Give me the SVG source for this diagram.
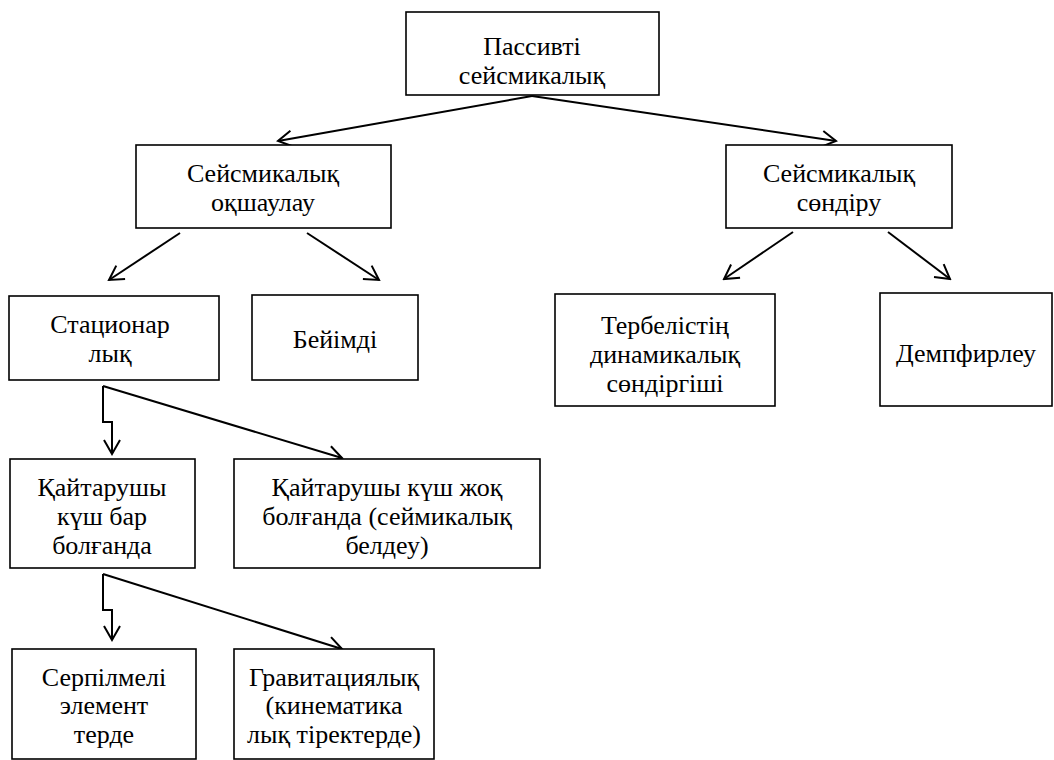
<svg xmlns="http://www.w3.org/2000/svg" width="1054" height="760" viewBox="0 0 1054 760">
<style>
.box{fill:#fff;stroke:#000;stroke-width:1.6}
text{font-family:'Liberation Serif','Times New Roman',serif;font-size:26px;fill:#000;text-anchor:middle}
.c{fill:none;stroke:#000;stroke-width:2;marker-end:url(#arr)}
</style>
<defs>
<marker id="arr" viewBox="-16 -10 18 20" refX="0" refY="0" markerWidth="18" markerHeight="20" markerUnits="userSpaceOnUse" orient="auto">
<path d="M-14,-8 L0,0 L-14,8" fill="none" stroke="#000" stroke-width="2"/>
</marker>
</defs>
<rect width="1054" height="760" fill="#fff"/>
<g id="connectors">
<line class="c" x1="532" y1="96" x2="278" y2="141"/>
<line class="c" x1="532" y1="96" x2="836" y2="141"/>
<line class="c" x1="180" y1="233" x2="109" y2="280"/>
<line class="c" x1="307" y1="233" x2="379" y2="280"/>
<line class="c" x1="793" y1="232" x2="724" y2="279"/>
<line class="c" x1="888" y1="232" x2="950" y2="279"/>
<polyline class="c" points="103,386 103,422 112,422 112,454"/>
<line class="c" x1="103" y1="386" x2="342" y2="458"/>
<polyline class="c" points="103,574 103,610 112,610 112,640"/>
<line class="c" x1="103" y1="574" x2="342" y2="649"/>
</g>
<g id="n1"><rect class="box" x="406" y="12" width="253" height="83"/><text x="532" y="55">Пассивті</text><text x="532" y="84">сейсмикалық</text></g>
<g id="n2"><rect class="box" x="136" y="145" width="255" height="83"/><text x="263" y="182">Сейсмикалық</text><text x="263" y="211">оқшаулау</text></g>
<g id="n3"><rect class="box" x="726" y="145" width="226" height="83"/><text x="839" y="182">Сейсмикалық</text><text x="839" y="211">сөндіру</text></g>
<g id="n4"><rect class="box" x="9" y="296" width="210" height="84"/><text x="110" y="333">Стационар</text><text x="110" y="362">лық</text></g>
<g id="n5"><rect class="box" x="252" y="295" width="166" height="85"/><text x="335" y="348">Бейімді</text></g>
<g id="n6"><rect class="box" x="555" y="294" width="220" height="112"/><text x="665" y="334">Тербелістің</text><text x="665" y="363">динамикалық</text><text x="665" y="392">сөндіргіші</text></g>
<g id="n7"><rect class="box" x="880" y="293" width="172" height="113"/><text x="966" y="362">Демпфирлеу</text></g>
<g id="n8"><rect class="box" x="10" y="459" width="185" height="109"/><text x="102" y="496">Қайтарушы</text><text x="102" y="525">күш бар</text><text x="102" y="554">болғанда</text></g>
<g id="n9"><rect class="box" x="234" y="459" width="306" height="109"/><text x="387" y="496">Қайтарушы күш жоқ</text><text x="387" y="525">болғанда (сеймикалық</text><text x="387" y="554">белдеу)</text></g>
<g id="n10"><rect class="box" x="12" y="649" width="184" height="110"/><text x="104" y="686">Серпілмелі</text><text x="104" y="714">элемент</text><text x="104" y="743">терде</text></g>
<g id="n11"><rect class="box" x="234" y="649" width="200" height="110"/><text x="334" y="686">Гравитациялық</text><text x="334" y="714">(кинематика</text><text x="334" y="743">лық тіректерде)</text></g>
</svg>
